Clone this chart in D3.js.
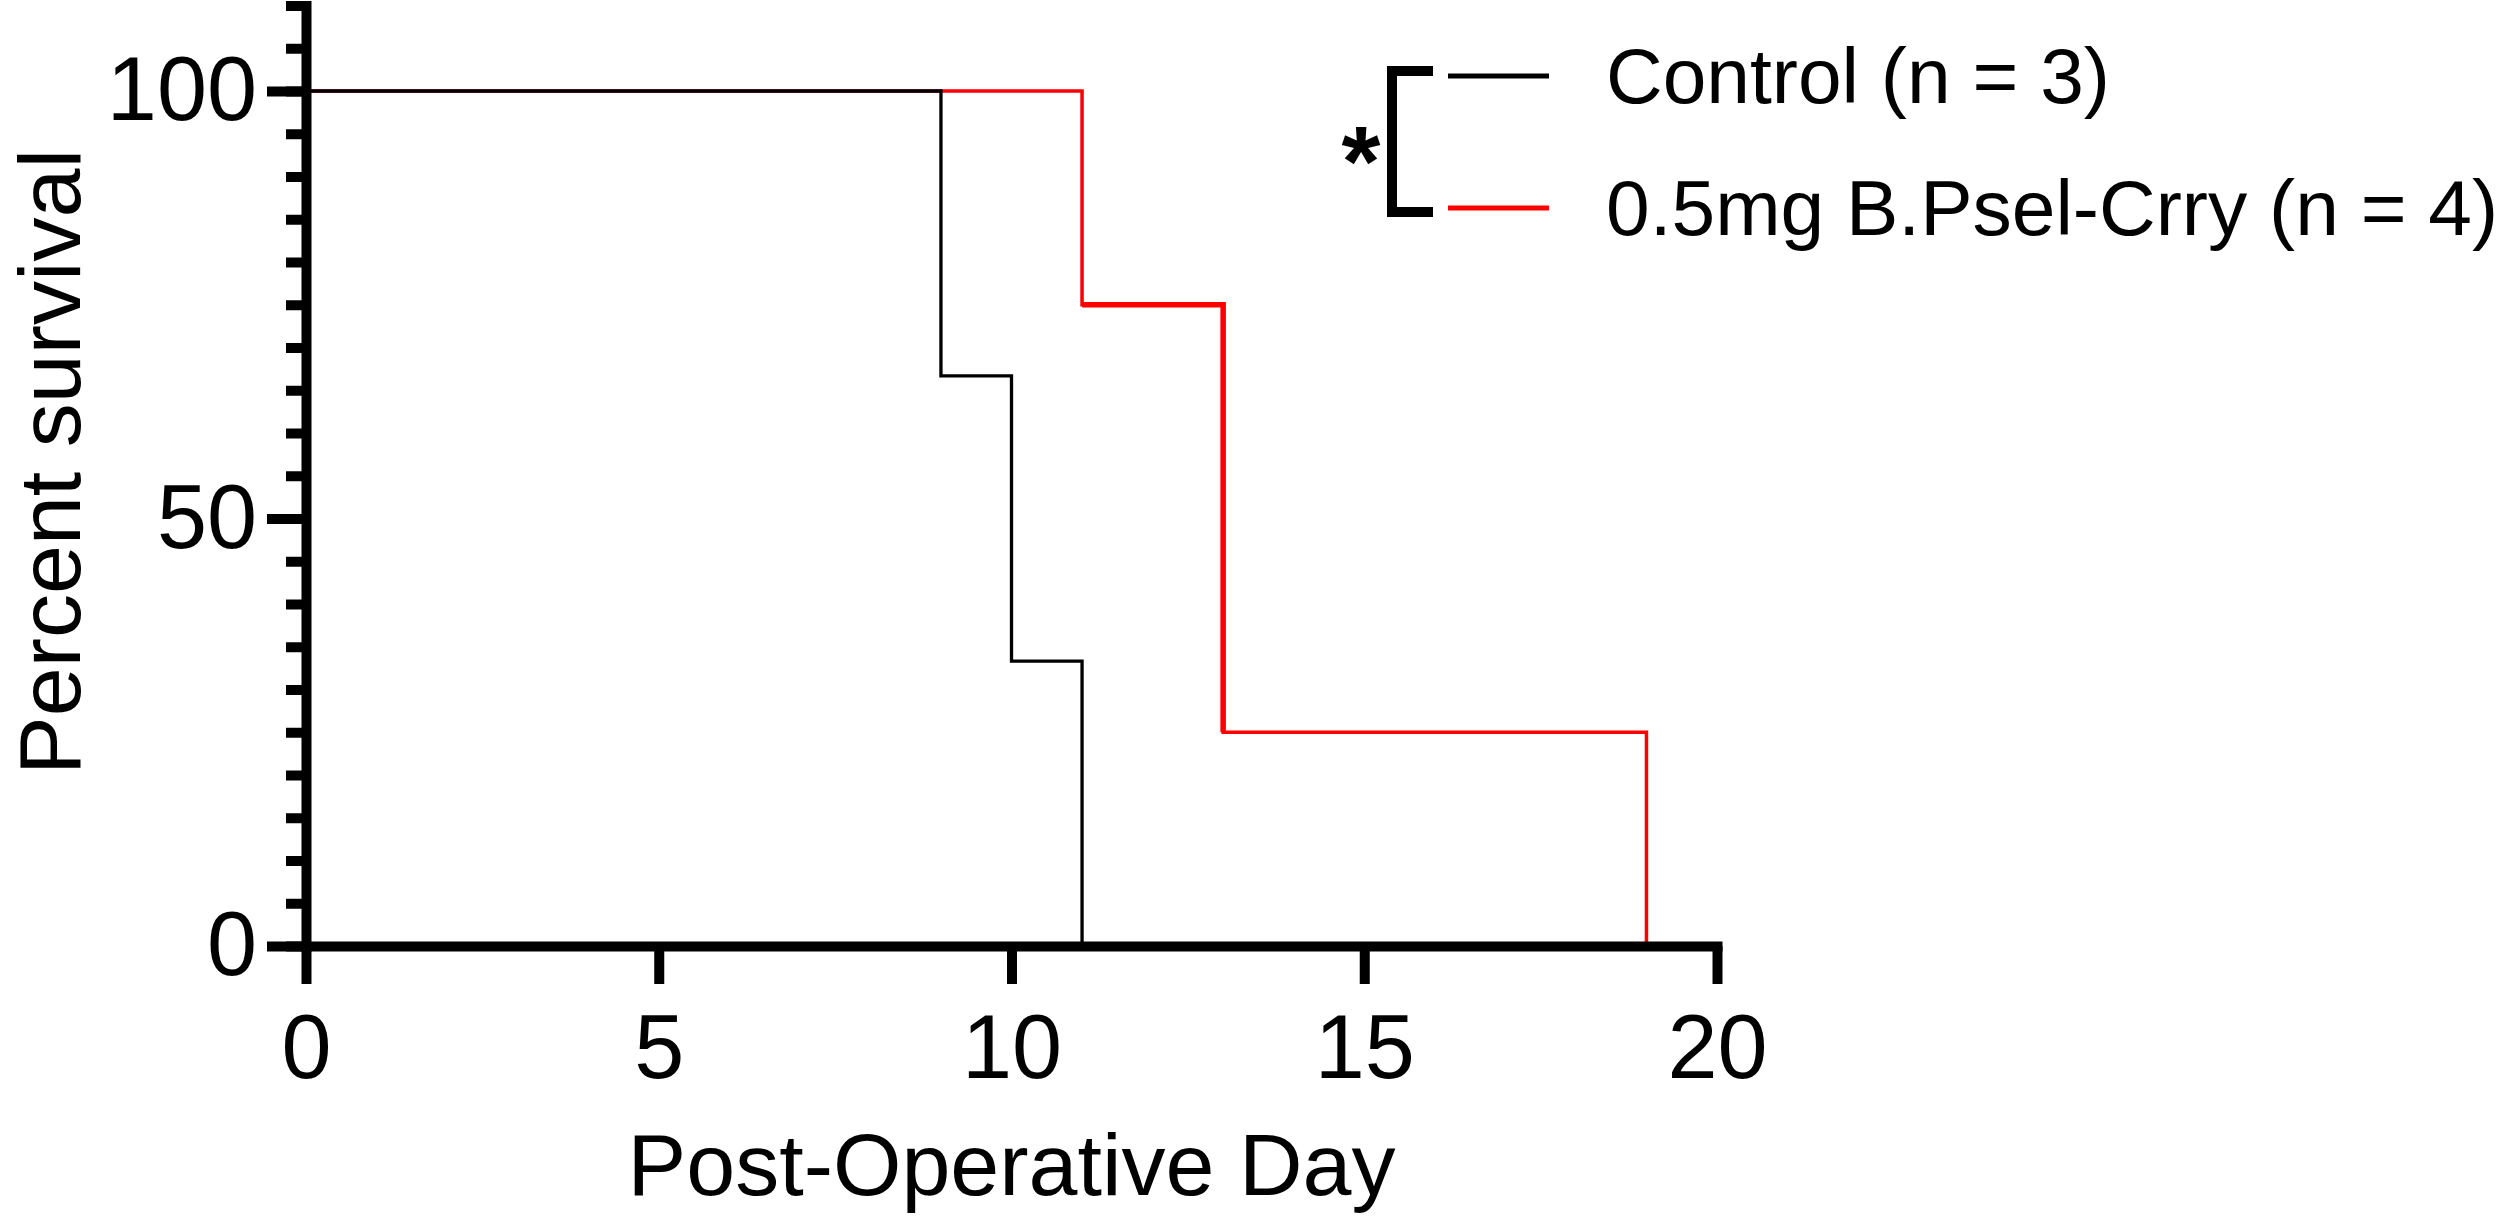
<!DOCTYPE html>
<html>
<head>
<meta charset="utf-8">
<script src="https://cdn.jsdelivr.net/npm/d3@7"></script>
<style>
    body { margin: 0; background: #fff; }
    text { font-family: "Liberation Sans", Arial, sans-serif; fill: #000; }
</style>
</head>
<body>
<div id="chart"></div>
<script>
// survival data
var controlDays = [0, 9, 10, 11];
var controlSurvival = [100, 66.67, 33.33, 0];
var treatedDays = [0, 11, 13, 19];
var treatedSurvival = [100, 75, 25, 0];

var seriesNames = ['Control (n = 3)', '0.5mg B.Psel-Crry (n = 4)'];
var seriesColors = ['#000000', '#ff0000'];

var xTicks = [0, 5, 10, 15, 20];
var yTicks = [0, 50, 100];

var width = 2500;
var height = 1216;

var x = d3.scaleLinear().domain([0, 20]).range([306, 1717]);
var y = d3.scaleLinear().domain([0, 110]).range([946, 5.5]);

var svg = d3
    .select('div#chart')
    .append('svg')
    .attr('width', width)
    .attr('height', height);

var toPoints = (days, vals) => days.map((d, i) => [d, vals[i]]);

var line = d3
    .line()
    .x(d => x(d[0]))
    .y(d => y(d[1]))
    .curve(d3.curveStepAfter);

var controlPts = toPoints(controlDays, controlSurvival);
var treatedPts = toPoints(treatedDays, treatedSurvival);

// red first, black on top
svg.append('path')
    .attr('d', line(treatedPts))
    .attr('fill', 'none')
    .attr('stroke', seriesColors[1])
    .attr('stroke-width', 3.5);

// the 75% step looks heavier in the original
svg.append('path')
    .attr('d', line(treatedPts.slice(1, 3)))
    .attr('fill', 'none')
    .attr('stroke', seriesColors[1])
    .attr('stroke-width', 5.5);

svg.append('path')
    .attr('d', line(controlPts))
    .attr('fill', 'none')
    .attr('stroke', seriesColors[0])
    .attr('stroke-width', 3.3);

// axes
var styleAxis = g => {
    g.select('.domain').attr('stroke-width', 10).attr('stroke-linecap', 'square');
    g.selectAll('.tick line').attr('stroke-width', 10);
    g.selectAll('.tick text')
        .style('font-family', '"Liberation Sans", Arial, sans-serif')
        .style('font-size', '90px')
        .attr('fill', '#000');
};

var yMinor = d3.range(0, 111, 5);

svg.append('g')
    .attr('transform', `translate(${x(0)},0)`)
    .call(d3.axisLeft(y).tickValues(yMinor).tickSize(20).tickSizeOuter(0).tickFormat(''))
    .call(styleAxis);

svg.append('g')
    .attr('transform', `translate(${x(0)},0)`)
    .call(d3.axisLeft(y).tickValues(yTicks).tickSize(39).tickSizeOuter(0).tickPadding(10))
    .call(styleAxis)
    .call(g => g.select('.domain').remove());

svg.append('g')
    .attr('transform', `translate(0,${y(0)})`)
    .call(d3.axisBottom(x).tickValues(xTicks).tickSize(38).tickSizeOuter(0).tickPadding(30))
    .call(styleAxis);

// axis titles
svg.append('text')
    .attr('x', (x(0) + x(20)) / 2)
    .attr('y', 1195)
    .attr('text-anchor', 'middle')
    .style('font-size', '88px')
    .text('Post-Operative Day');

svg.append('text')
    .attr('transform', 'translate(80,462) rotate(-90)')
    .attr('text-anchor', 'middle')
    .style('font-size', '88px')
    .text('Percent survival');

// legend
var legendY = [76, 208];
var legend = svg
    .selectAll('g.legend')
    .data(seriesNames)
    .enter()
    .append('g')
    .attr('class', 'legend')
    .attr('transform', (d, i) => `translate(0,${legendY[i]})`);

legend.append('line')
    .attr('x1', 1448)
    .attr('x2', 1549)
    .attr('stroke', (d, i) => seriesColors[i])
    .attr('stroke-width', 5);

legend.append('text')
    .attr('x', 1606)
    .attr('y', 27)
    .style('font-size', '78.5px')
    .text(d => d);

// significance bracket
svg.append('path')
    .attr('d', 'M1433,71H1392V212H1433')
    .attr('fill', 'none')
    .attr('stroke', '#000')
    .attr('stroke-width', 10);

svg.append('text')
    .attr('x', 1361)
    .attr('y', 196)
    .attr('text-anchor', 'middle')
    .style('font-size', '100px')
    .style('font-weight', 'bold')
    .text('*');
</script>
</body>
</html>
